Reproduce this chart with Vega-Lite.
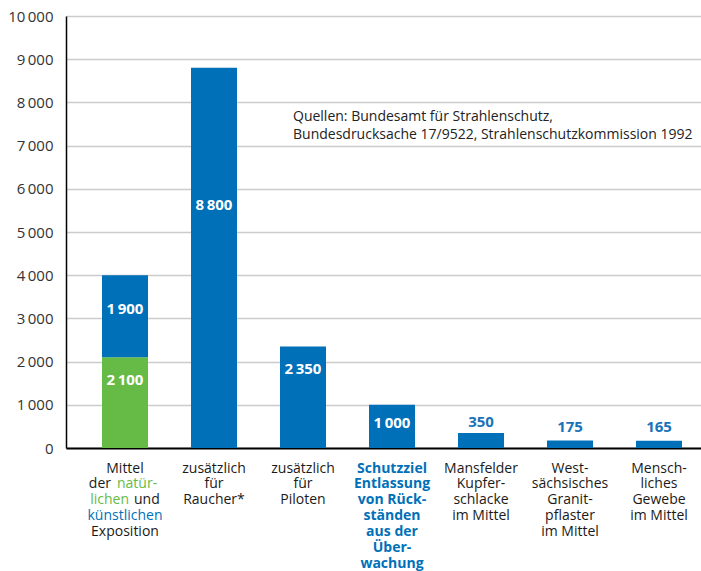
{
  "$schema": "https://vega.github.io/schema/vega-lite/v6.json",
  "width": 635,
  "height": 432,
  "autosize": {"type": "none"},
  "padding": {"left": 66, "top": 16, "right": 0, "bottom": 123},
  "background": "white",
  "config": {
    "font": "Open Sans",
    "view": {"stroke": null},
    "locale": {"number": {"decimal": ",", "thousands": "\u2009", "grouping": [3], "currency": ["", "\u00a0€"]}},
    "text": {"font": "Open Sans"}
  },
  "datasets": {
    "balken": [
      {"kat": "Exposition", "wert": 2100, "farbe": "grün", "ord": 1},
      {"kat": "Exposition", "wert": 1900, "farbe": "blau", "ord": 2},
      {"kat": "Raucher", "wert": 8800, "farbe": "blau", "ord": 1},
      {"kat": "Piloten", "wert": 2350, "farbe": "blau", "ord": 1},
      {"kat": "Schutzziel", "wert": 1000, "farbe": "blau", "ord": 1},
      {"kat": "Kupferschlacke", "wert": 350, "farbe": "blau", "ord": 1},
      {"kat": "Granitpflaster", "wert": 175, "farbe": "blau", "ord": 1},
      {"kat": "Gewebe", "wert": 165, "farbe": "blau", "ord": 1}
    ],
    "werte": [
      {"kat": "Exposition", "wert": 2100, "ly": 1581, "innen": true},
      {"kat": "Exposition", "wert": 1900, "ly": 3224, "innen": true},
      {"kat": "Raucher", "wert": 8800, "ly": 5630, "innen": true},
      {"kat": "Piloten", "wert": 2350, "ly": 1829, "innen": true},
      {"kat": "Schutzziel", "wert": 1000, "ly": 579, "innen": true},
      {"kat": "Kupferschlacke", "wert": 350, "ly": 609, "innen": false},
      {"kat": "Granitpflaster", "wert": 175, "ly": 477, "innen": false},
      {"kat": "Gewebe", "wert": 165, "ly": 477, "innen": false}
    ],
    "zeilen": [
      {"kat": "Exposition", "zeile": 1, "t": "Mittel", "farbe": "schwarz", "teil": "mitte"},
      {"kat": "Exposition", "zeile": 2, "t": "der", "farbe": "schwarz", "teil": "l2"},
      {"kat": "Exposition", "zeile": 2, "t": "natür-", "farbe": "grün", "teil": "r2"},
      {"kat": "Exposition", "zeile": 3, "t": "lichen", "farbe": "grün", "teil": "l3"},
      {"kat": "Exposition", "zeile": 3, "t": "und", "farbe": "schwarz", "teil": "r3"},
      {"kat": "Exposition", "zeile": 4, "t": "künstlichen", "farbe": "blau", "teil": "mitte"},
      {"kat": "Exposition", "zeile": 5, "t": "Exposition", "farbe": "schwarz", "teil": "mitte"},
      {"kat": "Raucher", "zeile": 1, "t": "zusätzlich\nfür\nRaucher*", "farbe": "schwarz", "teil": "block"},
      {"kat": "Piloten", "zeile": 1, "t": "zusätzlich\nfür\nPiloten", "farbe": "schwarz", "teil": "block"},
      {"kat": "Schutzziel", "zeile": 1, "t": "Schutzziel\nEntlassung\nvon Rück-\nständen\naus der\nÜber-\nwachung", "farbe": "blau", "teil": "fett"},
      {"kat": "Kupferschlacke", "zeile": 1, "t": "Mansfelder\nKupfer-\nschlacke\nim Mittel", "farbe": "schwarz", "teil": "block"},
      {"kat": "Granitpflaster", "zeile": 1, "t": "West-\nsächsisches\nGranit-\npflaster\nim Mittel", "farbe": "schwarz", "teil": "block"},
      {"kat": "Gewebe", "zeile": 1, "t": "Mensch-\nliches\nGewebe\nim Mittel", "farbe": "schwarz", "teil": "block"}
    ]
  },
  "encoding": {
    "x": {
      "field": "kat",
      "type": "nominal",
      "scale": {
        "domain": ["Exposition", "Raucher", "Piloten", "Schutzziel", "Kupferschlacke", "Granitpflaster", "Gewebe"],
        "paddingInner": 0.4831,
        "paddingOuter": 0.309,
        "align": 0.6545,
        "round": false
      },
      "axis": {"labels": false, "ticks": false, "title": null, "grid": false, "domain": true, "domainColor": "#000000", "domainWidth": 2}
    },
    "color": {
      "field": "farbe",
      "type": "nominal",
      "scale": {"domain": ["grün", "blau", "schwarz"], "range": ["#66bb47", "#0070b8", "#1a1a1a"]},
      "legend": null
    }
  },
  "layer": [
    {
      "layer": [
        {
          "data": {"name": "balken"},
          "mark": {"type": "bar"},
          "encoding": {
            "y": {
              "field": "wert",
              "type": "quantitative",
              "stack": "zero",
              "scale": {"domain": [0, 10000], "nice": false},
              "axis": {
                "values": [0, 1000, 2000, 3000, 4000, 5000, 6000, 7000, 8000, 9000, 10000],
                "format": ",d",
                "title": null,
                "ticks": false,
                "labelPadding": 13,
                "labelFontSize": 15,
                "labelFont": "Open Sans",
                "labelColor": "#333333",
                "domain": true,
                "domainColor": "#000000",
                "domainWidth": 1.5,
                "grid": true,
                "gridColor": "#cccccc",
                "gridWidth": 1.3
              }
            },
            "order": {"field": "ord", "type": "quantitative"}
          }
        },
        {
          "data": {"name": "werte"},
          "transform": [{"filter": "datum.innen"}],
          "mark": {"type": "text", "color": "white", "fontWeight": "bold", "fontSize": 15, "baseline": "middle", "align": "center"},
          "encoding": {
            "y": {"field": "ly", "type": "quantitative"},
            "text": {"field": "wert", "type": "quantitative", "format": ",d"},
            "color": null
          }
        },
        {
          "data": {"name": "werte"},
          "transform": [{"filter": "!datum.innen"}],
          "mark": {"type": "text", "color": "#1a73b8", "fontWeight": "bold", "fontSize": 15, "baseline": "middle", "align": "center"},
          "encoding": {
            "y": {"field": "ly", "type": "quantitative"},
            "text": {"field": "wert", "type": "quantitative", "format": ",d"},
            "color": null
          }
        },
        {
          "data": {"values": [{}]},
          "mark": {"type": "text", "align": "left", "baseline": "top", "fontSize": 14, "lineHeight": 18, "color": "#222222", "dx": -10},
          "encoding": {
            "x": {"datum": "Piloten"},
            "y": {"datum": 7831},
            "text": {"value": ["Quellen: Bundesamt für Strahlenschutz,", "Bundesdrucksache 17/9522, Strahlenschutzkommission 1992"]},
            "color": null
          }
        }
      ]
    },
    {
      "data": {"name": "zeilen"},
      "encoding": {
        "y": {"field": "zeile", "type": "quantitative", "scale": {"domain": [1, 7], "range": [452.5, 547.5], "nice": false, "zero": false}, "axis": null},
        "text": {"field": "t", "type": "nominal"}
      },
      "layer": [
        {
          "transform": [{"filter": "datum.teil == 'mitte'"}],
          "mark": {"type": "text", "fontSize": 14, "baseline": "middle", "align": "center"}
        },
        {
          "transform": [{"filter": "datum.teil == 'block'"}],
          "mark": {"type": "text", "fontSize": 14, "baseline": "top", "align": "center", "lineBreak": "\n", "lineHeight": 15.83, "dy": -6.86}
        },
        {
          "transform": [{"filter": "datum.teil == 'fett'"}],
          "mark": {"type": "text", "fontSize": 14, "fontWeight": "bold", "baseline": "top", "align": "center", "lineBreak": "\n", "lineHeight": 15.83, "dy": -6.86}
        },
        {
          "transform": [{"filter": "datum.teil == 'l2'"}],
          "mark": {"type": "text", "fontSize": 14, "baseline": "middle", "align": "right", "dx": -14}
        },
        {
          "transform": [{"filter": "datum.teil == 'r2'"}],
          "mark": {"type": "text", "fontSize": 14, "baseline": "middle", "align": "left", "dx": -8}
        },
        {
          "transform": [{"filter": "datum.teil == 'l3'"}],
          "mark": {"type": "text", "fontSize": 14, "baseline": "middle", "align": "right", "dx": 4}
        },
        {
          "transform": [{"filter": "datum.teil == 'r3'"}],
          "mark": {"type": "text", "fontSize": 14, "baseline": "middle", "align": "left", "dx": 9}
        }
      ]
    }
  ],
  "resolve": {"scale": {"y": "independent"}}
}
